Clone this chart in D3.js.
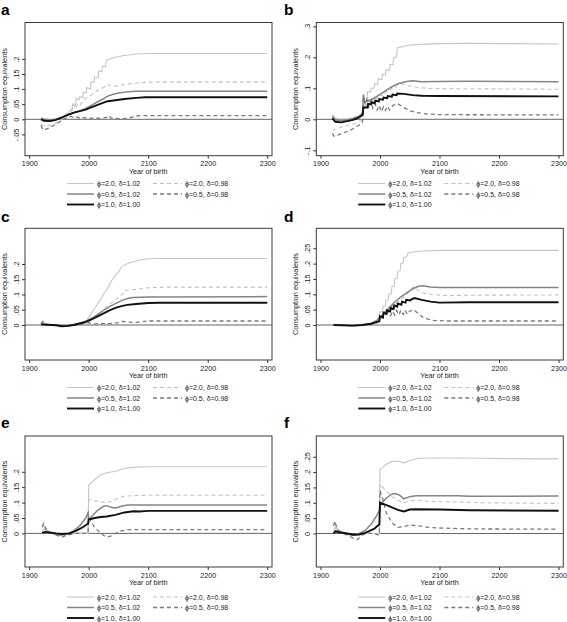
<!DOCTYPE html>
<html><head><meta charset="utf-8">
<script src="https://cdn.jsdelivr.net/npm/d3@7"></script>
<style>
html,body{margin:0;padding:0;background:#fff;}
svg{display:block;font-family:"Liberation Sans",Arial,sans-serif;}
</style></head>
<body><svg id="chart" width="567" height="622"></svg>
<script>
// ---------------- DATA ----------------
const seriesNames = ["ϕ=2.0, δ=1.02","ϕ=2.0, δ=0.98","ϕ=0.5, δ=1.02","ϕ=0.5, δ=0.98","ϕ=1.0, δ=1.00"];
const xTicks = [1900, 2000, 2100, 2200, 2300];
const xLabel = "Year of birth";
const yLabel = "Consumption equivalents";
const panelLetters = ["a","b","c","d","e","f"];

const aYTicks = [-0.05, 0, 0.05, 0.1, 0.15, 0.2];
const aYLabels = ["-.05","0",".05",".1",".15",".2"];
const bYTicks = [-0.1, 0, 0.1, 0.2, 0.3];
const bYLabels = ["-.1","0",".1",".2",".3"];
const cYTicks = [0, 0.05, 0.1, 0.15, 0.2];
const cYLabels = ["0",".05",".1",".15",".2"];
const dYTicks = [0, 0.05, 0.1, 0.15, 0.2, 0.25];
const dYLabels = ["0",".05",".1",".15",".2",".25"];
const eYTicks = [0, 0.05, 0.1, 0.15, 0.2];
const eYLabels = ["0",".05",".1",".15",".2"];
const fYTicks = [0, 0.05, 0.1, 0.15, 0.2, 0.25];
const fYLabels = ["0",".05",".1",".15",".2",".25"];

// panel a
const a_p20_d102 = [[1920,0.0],[1925,-0.003],[1935,-0.004],[1945,-0.002],[1955,0.005],[1965,0.02],[1972,0.035],[1973,0.05],[1978,0.045],[1979,0.07],[1984,0.065],[1985,0.075],[1990,0.072],[1991,0.09],[1996,0.088],[1997,0.105],[2003,0.1],[2004,0.125],[2009,0.122],[2010,0.14],[2016,0.138],[2017,0.16],[2022,0.158],[2023,0.175],[2028,0.175],[2030,0.195],[2040,0.203],[2050,0.208],[2065,0.213],[2080,0.216],[2100,0.218],[2300,0.218]];
const a_p20_d098 = [[1920,-0.015],[1925,-0.022],[1935,-0.02],[1945,-0.012],[1955,0.0],[1965,0.015],[1972,0.03],[1975,0.05],[1978,0.035],[1981,0.05],[1985,0.045],[1990,0.06],[1995,0.07],[2000,0.075],[2005,0.08],[2010,0.09],[2015,0.095],[2020,0.1],[2025,0.105],[2030,0.115],[2035,0.113],[2045,0.11],[2060,0.115],[2080,0.12],[2100,0.123],[2300,0.123]];
const a_p05_d102 = [[1920,0.005],[1925,0.0],[1935,-0.002],[1945,0.0],[1955,0.006],[1965,0.015],[1975,0.022],[1985,0.028],[1995,0.036],[2005,0.047],[2015,0.058],[2025,0.068],[2030,0.075],[2040,0.082],[2050,0.087],[2065,0.091],[2080,0.093],[2300,0.093]];
const a_p05_d098 = [[1920,-0.02],[1923,-0.035],[1930,-0.032],[1940,-0.022],[1950,-0.01],[1958,0.0],[1965,0.008],[1970,0.01],[1975,0.005],[1980,0.008],[1985,0.003],[1990,0.006],[2000,0.003],[2010,0.005],[2020,0.003],[2030,0.006],[2033,0.012],[2038,0.004],[2050,0.002],[2060,0.002],[2070,0.006],[2085,0.012],[2300,0.012]];
const a_p10_d100 = [[1920,0.0],[1925,-0.005],[1935,-0.006],[1945,-0.002],[1955,0.006],[1965,0.015],[1975,0.022],[1985,0.027],[1995,0.032],[2005,0.04],[2015,0.048],[2025,0.055],[2032,0.06],[2045,0.063],[2060,0.067],[2080,0.071],[2095,0.073],[2300,0.073]];

// panel b
const b_p20_d102 = [[1920,0.015],[1925,0.003],[1935,0.0],[1945,0.002],[1955,0.005],[1965,0.012],[1970,0.02],[1972,0.035],[1978,0.04],[1979,0.09],[1984,0.088],[1985,0.1],[1990,0.1],[1991,0.115],[1996,0.113],[1997,0.13],[2003,0.128],[2004,0.145],[2009,0.143],[2010,0.16],[2016,0.158],[2017,0.178],[2022,0.176],[2023,0.2],[2028,0.2],[2029,0.23],[2035,0.233],[2045,0.238],[2060,0.241],[2100,0.244],[2150,0.245],[2300,0.243]];
const b_p20_d098 = [[1920,-0.035],[1925,-0.032],[1935,-0.025],[1945,-0.02],[1955,-0.015],[1965,-0.008],[1971,0.0],[1972,0.06],[1976,0.04],[1980,0.06],[1985,0.05],[1990,0.07],[1995,0.065],[2000,0.08],[2005,0.075],[2010,0.09],[2015,0.088],[2020,0.1],[2025,0.1],[2030,0.112],[2035,0.115],[2045,0.11],[2060,0.104],[2080,0.1],[2100,0.099],[2300,0.097]];
const b_p05_d102 = [[1920,0.01],[1925,-0.002],[1935,-0.004],[1945,-0.002],[1955,0.003],[1965,0.01],[1971,0.02],[1972,0.08],[1975,0.055],[1980,0.06],[1990,0.068],[2000,0.08],[2010,0.093],[2020,0.105],[2030,0.115],[2045,0.122],[2055,0.124],[2070,0.121],[2100,0.122],[2150,0.123],[2300,0.121]];
const b_p05_d098 = [[1920,-0.045],[1923,-0.055],[1930,-0.05],[1940,-0.043],[1950,-0.035],[1960,-0.025],[1970,-0.012],[1971,-0.005],[1972,0.07],[1975,0.05],[1978,0.065],[1981,0.04],[1985,0.06],[1988,0.035],[1992,0.05],[1995,0.03],[1999,0.045],[2002,0.025],[2006,0.04],[2009,0.028],[2013,0.042],[2016,0.03],[2022,0.045],[2030,0.05],[2040,0.038],[2050,0.028],[2060,0.022],[2080,0.017],[2100,0.015],[2300,0.014]];
const b_p10_d100 = [[1920,0.003],[1925,-0.008],[1935,-0.01],[1945,-0.006],[1955,-0.002],[1965,0.006],[1971,0.015],[1972,0.038],[1979,0.038],[1980,0.05],[1985,0.048],[1986,0.055],[1991,0.052],[1992,0.06],[1998,0.058],[1999,0.065],[2005,0.063],[2006,0.07],[2012,0.068],[2013,0.075],[2020,0.073],[2021,0.08],[2028,0.078],[2029,0.083],[2040,0.082],[2055,0.078],[2070,0.076],[2100,0.075],[2300,0.074]];

// panel c
const c_p20_d102 = [[1920,0.005],[1923,0.01],[1927,0.002],[1940,0.0],[1955,-0.003],[1965,-0.002],[1980,0.002],[1990,0.005],[1995,0.01],[1998,0.02],[2002,0.03],[2005,0.04],[2008,0.05],[2012,0.06],[2015,0.07],[2019,0.08],[2022,0.09],[2026,0.105],[2030,0.115],[2033,0.125],[2037,0.14],[2040,0.15],[2044,0.16],[2048,0.17],[2052,0.18],[2055,0.19],[2060,0.197],[2070,0.205],[2085,0.212],[2100,0.217],[2120,0.218],[2300,0.218]];
const c_p20_d098 = [[1920,0.003],[1923,0.008],[1928,0.002],[1945,0.0],[1955,-0.003],[1970,-0.002],[1985,0.002],[1995,0.005],[2000,0.01],[2010,0.025],[2020,0.04],[2030,0.06],[2040,0.075],[2050,0.09],[2057,0.1],[2060,0.113],[2070,0.115],[2085,0.118],[2100,0.122],[2130,0.124],[2300,0.124]];
const c_p05_d102 = [[1920,0.003],[1930,0.002],[1945,0.0],[1955,-0.003],[1965,-0.002],[1975,0.002],[1985,0.006],[1995,0.012],[2005,0.022],[2015,0.035],[2025,0.048],[2035,0.06],[2045,0.07],[2055,0.08],[2065,0.087],[2075,0.09],[2100,0.092],[2300,0.093]];
const c_p05_d098 = [[1920,0.005],[1923,0.012],[1926,0.003],[1935,0.0],[1955,-0.003],[1970,-0.002],[1985,0.002],[1995,0.006],[2000,0.008],[2005,0.004],[2010,0.003],[2020,0.005],[2030,0.004],[2040,0.005],[2050,0.008],[2057,0.012],[2065,0.01],[2075,0.008],[2090,0.011],[2100,0.013],[2300,0.013]];
const c_p10_d100 = [[1920,0.002],[1930,0.001],[1945,-0.001],[1955,-0.004],[1965,-0.003],[1975,0.0],[1985,0.005],[1995,0.01],[2005,0.018],[2015,0.028],[2025,0.038],[2035,0.048],[2045,0.056],[2055,0.062],[2065,0.066],[2080,0.069],[2100,0.072],[2120,0.073],[2300,0.073]];

// panel d
const d_p20_d102 = [[1922,0.0],[1940,0.0],[1955,-0.002],[1965,0.0],[1980,0.003],[1990,0.008],[1995,0.015],[1998,0.03],[2000,0.042],[2004,0.045],[2005,0.06],[2009,0.062],[2010,0.08],[2014,0.082],[2015,0.1],[2019,0.102],[2020,0.125],[2024,0.127],[2025,0.15],[2029,0.152],[2030,0.175],[2034,0.177],[2035,0.2],[2039,0.202],[2040,0.22],[2045,0.222],[2047,0.235],[2055,0.238],[2070,0.241],[2100,0.243],[2300,0.243]];
const d_p20_d098 = [[1922,0.0],[1955,-0.002],[1970,0.0],[1985,0.004],[1995,0.012],[2000,0.02],[2010,0.04],[2020,0.058],[2030,0.075],[2040,0.092],[2050,0.11],[2057,0.125],[2065,0.112],[2075,0.103],[2090,0.099],[2110,0.096],[2150,0.097],[2300,0.098]];
const d_p05_d102 = [[1922,0.0],[1955,-0.002],[1970,0.0],[1985,0.005],[1995,0.015],[2005,0.035],[2015,0.055],[2025,0.075],[2035,0.092],[2045,0.105],[2055,0.118],[2065,0.126],[2072,0.128],[2085,0.124],[2100,0.122],[2300,0.122]];
const d_p05_d098 = [[1922,0.0],[1955,-0.003],[1970,0.0],[1985,0.003],[1995,0.008],[1999,0.01],[2000,0.035],[2004,0.025],[2007,0.042],[2011,0.03],[2014,0.045],[2018,0.03],[2021,0.045],[2025,0.032],[2028,0.047],[2032,0.033],[2035,0.048],[2039,0.034],[2042,0.048],[2046,0.035],[2050,0.045],[2057,0.05],[2065,0.035],[2075,0.022],[2090,0.015],[2110,0.013],[2300,0.013]];
const d_p10_d100 = [[1922,0.0],[1955,-0.002],[1970,0.0],[1985,0.004],[1995,0.01],[1999,0.012],[2000,0.028],[2005,0.024],[2006,0.04],[2011,0.036],[2012,0.048],[2017,0.044],[2018,0.056],[2023,0.052],[2024,0.064],[2029,0.06],[2030,0.07],[2036,0.066],[2037,0.076],[2043,0.073],[2044,0.082],[2050,0.08],[2058,0.088],[2070,0.082],[2085,0.076],[2100,0.073],[2150,0.074],[2300,0.074]];

// panel e
const e_p20_d102 = [[1922,0.005],[1925,0.015],[1930,0.005],[1940,0.0],[1955,-0.005],[1965,-0.002],[1975,0.0],[1985,0.0],[1999,0.0],[2000,0.157],[2005,0.165],[2010,0.175],[2020,0.19],[2030,0.197],[2040,0.2],[2045,0.201],[2055,0.208],[2065,0.212],[2080,0.215],[2100,0.216],[2300,0.216]];
const e_p20_d098 = [[1922,0.02],[1925,0.028],[1930,0.01],[1940,0.0],[1955,-0.008],[1965,-0.003],[1980,0.0],[1999,0.0],[2000,0.11],[2010,0.106],[2020,0.102],[2030,0.1],[2040,0.105],[2050,0.115],[2060,0.121],[2080,0.123],[2100,0.124],[2300,0.124]];
const e_p05_d102 = [[1922,0.003],[1930,0.004],[1940,0.0],[1955,-0.005],[1965,0.0],[1975,0.008],[1985,0.025],[1995,0.05],[1999,0.067],[2000,0.045],[2005,0.055],[2015,0.075],[2025,0.088],[2030,0.09],[2040,0.083],[2047,0.083],[2055,0.088],[2065,0.092],[2300,0.092]];
const e_p05_d098 = [[1922,0.02],[1924,0.032],[1928,0.015],[1935,0.003],[1945,-0.005],[1955,-0.012],[1965,-0.005],[1975,0.0],[1990,0.0],[1999,0.0],[2000,0.05],[2005,0.035],[2010,0.02],[2020,0.0],[2030,-0.012],[2038,-0.008],[2045,0.0],[2055,0.008],[2065,0.012],[2080,0.012],[2300,0.012]];
const e_p10_d100 = [[1922,0.002],[1927,0.005],[1935,0.003],[1945,0.0],[1955,-0.002],[1968,0.0],[1980,0.01],[1990,0.02],[1999,0.032],[2000,0.045],[2010,0.05],[2020,0.053],[2030,0.055],[2045,0.06],[2060,0.068],[2075,0.072],[2085,0.071],[2100,0.073],[2300,0.073]];

// panel f
const f_p20_d102 = [[1922,0.01],[1925,0.02],[1930,0.008],[1940,0.0],[1955,-0.005],[1970,0.0],[1999,0.0],[2000,0.208],[2010,0.225],[2020,0.234],[2030,0.236],[2040,0.23],[2050,0.238],[2065,0.245],[2100,0.246],[2180,0.245],[2200,0.244],[2300,0.243]];
const f_p20_d098 = [[1922,0.03],[1925,0.035],[1930,0.01],[1940,0.0],[1955,-0.008],[1970,0.0],[1999,0.0],[2000,0.16],[2010,0.14],[2020,0.12],[2030,0.108],[2040,0.1],[2050,0.106],[2060,0.108],[2080,0.105],[2120,0.103],[2180,0.1],[2300,0.098]];
const f_p05_d102 = [[1922,0.005],[1930,0.005],[1940,0.0],[1955,-0.005],[1965,0.0],[1975,0.01],[1985,0.03],[1995,0.06],[1999,0.075],[2000,0.09],[2010,0.115],[2020,0.128],[2025,0.13],[2033,0.125],[2040,0.113],[2050,0.12],[2060,0.123],[2130,0.123],[2150,0.121],[2300,0.122]];
const f_p05_d098 = [[1922,0.025],[1924,0.04],[1928,0.015],[1935,0.003],[1945,-0.005],[1955,-0.015],[1962,-0.02],[1970,-0.005],[1980,0.002],[1999,-0.005],[2000,0.14],[2005,0.11],[2010,0.07],[2020,0.035],[2030,0.02],[2040,0.022],[2050,0.028],[2065,0.025],[2080,0.02],[2100,0.018],[2150,0.015],[2300,0.014]];
const f_p10_d100 = [[1922,0.0],[1925,0.008],[1930,0.005],[1945,0.0],[1955,-0.004],[1965,-0.003],[1975,0.002],[1990,0.015],[1999,0.03],[2000,0.1],[2010,0.093],[2020,0.085],[2030,0.077],[2040,0.072],[2050,0.078],[2060,0.079],[2100,0.078],[2150,0.076],[2300,0.074]];

// ---------------- LAYOUT / STYLE ----------------
const styles = [
  {color:"#c6c6c6", width:1.1, dash:null},
  {color:"#c2c2c2", width:1.1, dash:"4,3"},
  {color:"#858585", width:1.5, dash:null},
  {color:"#7a7a7a", width:1.3, dash:"4,3"},
  {color:"#111111", width:1.9, dash:null}
];
const colLeft = [25, 316.3], colRight = [272, 563.3];
const rowTop = [22.5, 228.3, 436], rowBottom = [155.7, 360, 567];
const legendRowY = [[183.5,194,204.5],[387.5,398,408.5],[597,607.5,618]];
const letterY = [14.5, 222, 428];

const panels = [
  {series:[a_p20_d102,a_p20_d098,a_p05_d102,a_p05_d098,a_p10_d100], ticks:aYTicks, labels:aYLabels, dom:[-0.1205,0.3205]},
  {series:[b_p20_d102,b_p20_d098,b_p05_d102,b_p05_d098,b_p10_d100], ticks:bYTicks, labels:bYLabels, dom:[-0.1174,0.3123]},
  {series:[c_p20_d102,c_p20_d098,c_p05_d102,c_p05_d098,c_p10_d100], ticks:cYTicks, labels:cYLabels, dom:[-0.1148,0.317]},
  {series:[d_p20_d102,d_p20_d098,d_p05_d102,d_p05_d098,d_p10_d100], ticks:dYTicks, labels:dYLabels, dom:[-0.114,0.315]},
  {series:[e_p20_d102,e_p20_d098,e_p05_d102,e_p05_d098,e_p10_d100], ticks:eYTicks, labels:eYLabels, dom:[-0.109,0.316]},
  {series:[f_p20_d102,f_p20_d098,f_p05_d102,f_p05_d098,f_p10_d100], ticks:fYTicks, labels:fYLabels, dom:[-0.109,0.3175]}
];

const svg = d3.select("#chart");
svg.append("rect").attr("width",567).attr("height",622).attr("fill","#fff");

panels.forEach((p, i) => {
  const col = i % 2, row = Math.floor(i / 2);
  const L = colLeft[col], R = colRight[col], T = rowTop[row], B = rowBottom[row];
  const x = d3.scaleLinear().domain([1893, 2308]).range([L, R]);
  const y = d3.scaleLinear().domain(p.dom).range([B, T]);
  const g = svg.append("g");

  // panel letter
  g.append("text").attr("x", col === 0 ? 1 : 284).attr("y", letterY[row])
    .attr("font-size", 15.5).attr("font-weight", "bold").attr("fill", "#000")
    .text(panelLetters[i]);

  // zero line
  g.append("line").attr("x1", L).attr("x2", R).attr("y1", y(0)).attr("y2", y(0))
    .attr("stroke", "#666").attr("stroke-width", 1);

  // series
  const line = d3.line().x(d => x(d[0])).y(d => y(d[1]));
  p.series.forEach((s, k) => {
    const st = styles[k];
    g.append("path").datum(s).attr("d", line).attr("fill", "none")
      .attr("stroke", st.color).attr("stroke-width", st.width)
      .attr("stroke-dasharray", st.dash).attr("stroke-linejoin", "miter");
  });

  // frame
  g.append("rect").attr("x", L).attr("y", T).attr("width", R - L).attr("height", B - T)
    .attr("fill", "none").attr("stroke", "#3a3a3a").attr("stroke-width", 1);

  // x axis
  const xa = g.append("g").attr("transform", `translate(0,${B})`)
    .call(d3.axisBottom(x).tickValues(xTicks).tickFormat(d3.format("d")).tickSize(3).tickSizeOuter(0));
  xa.select(".domain").remove();
  xa.selectAll("line").attr("stroke", "#333");
  xa.selectAll("text").attr("y", 10.5).attr("dy", 0).attr("font-size", 7.2)
    .attr("font-family", "Liberation Sans, Arial, sans-serif").attr("fill", "#222");
  g.append("text").attr("x", x(2100)).attr("y", B + 18.3).attr("text-anchor", "middle")
    .attr("font-size", 7.2).attr("fill", "#222").text(xLabel);

  // y axis
  const ya = g.append("g").attr("transform", `translate(${L},0)`)
    .call(d3.axisLeft(y).tickValues(p.ticks).tickFormat((d, j) => p.labels[j]).tickSize(3).tickSizeOuter(0));
  ya.select(".domain").remove();
  ya.selectAll("line").attr("stroke", "#333");
  ya.selectAll("text").attr("x", 0).attr("y", 0).attr("dy", 0)
    .attr("text-anchor", "middle").attr("transform", "translate(-6.5,0) rotate(-90)")
    .attr("font-size", 7.3).attr("font-family", "Liberation Sans, Arial, sans-serif").attr("fill", "#222");
  g.append("text").attr("transform", `translate(${L - 18},${(T + B) / 2}) rotate(-90)`)
    .attr("text-anchor", "middle").attr("font-size", 7.3).attr("fill", "#222").text(yLabel);

  // legend
  const off = col === 0 ? 0 : 291.3;
  const legendPos = [[0,0],[1,0],[0,1],[1,1],[0,2]];
  legendPos.forEach(([c, r], k) => {
    const st = styles[k];
    const lx1 = (c === 0 ? 67 : 153) + off, lx2 = (c === 0 ? 94 : 182) + off;
    const ly = legendRowY[row][r];
    g.append("line").attr("x1", lx1).attr("x2", lx2).attr("y1", ly).attr("y2", ly)
      .attr("stroke", st.color).attr("stroke-width", st.width).attr("stroke-dasharray", st.dash);
    g.append("text").attr("x", lx2 + 3).attr("y", ly + 2.5).attr("font-size", 7)
      .attr("fill", "#222").text(seriesNames[k]);
  });
});
</script></body></html>
